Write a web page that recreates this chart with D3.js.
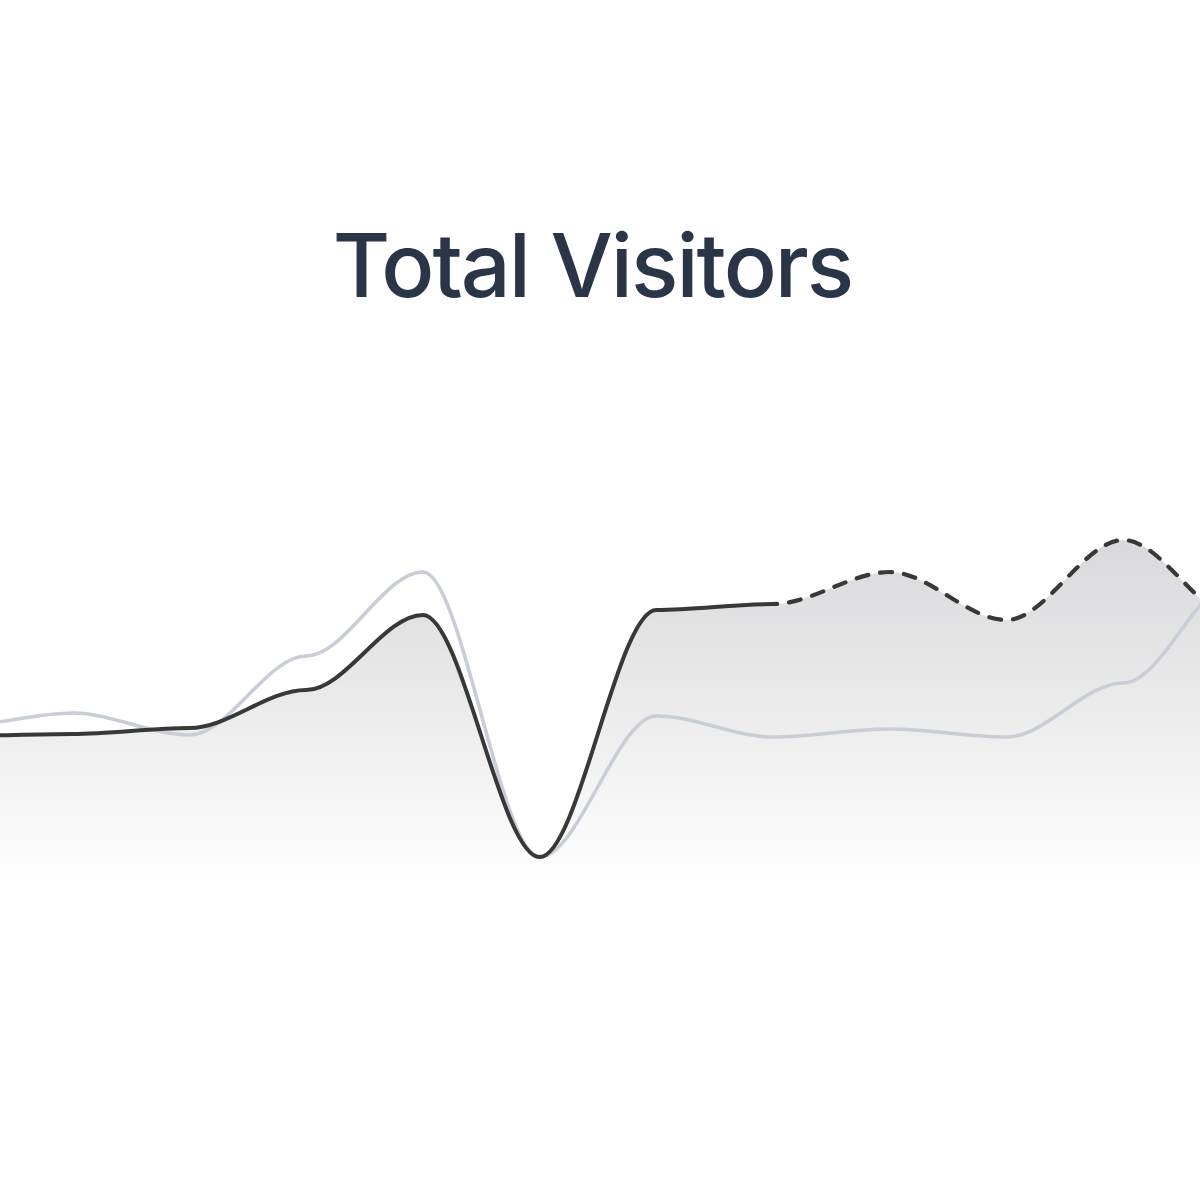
<!DOCTYPE html>
<html>
<head>
<meta charset="utf-8">
<script src="https://cdn.jsdelivr.net/npm/d3@7"></script>
<style>
  html, body { margin: 0; padding: 0; background: #ffffff; }
  svg { display: block; }
</style>
</head>
<body>
<div id="chart"></div>
<script>
// ---- data ----
const categories = ["P0", "P1", "P2", "P3", "P4", "P5", "P6", "P7", "P8", "P9", "P10", "P11"];
const currentVisitors  = [164, 166, 172, 210, 285, 43, 290, 296, 328, 280, 360, 280];
const previousVisitors = [174, 187, 165, 244, 328, 43, 184, 163, 171, 163, 217, 324];
const lastActualIndex = 7; // solid up to this category, dashed after
const titleText = "Total Visitors";

// ---- custom curve: cubic with flat tangents at every point (x-linear) ----
function SmoothStep(context) { this._context = context; }
SmoothStep.prototype = {
  areaStart() { this._line = 0; },
  areaEnd() { this._line = NaN; },
  lineStart() { this._point = 0; },
  lineEnd() {
    if (this._line || (this._line !== 0 && this._point === 1)) this._context.closePath();
    this._line = 1 - this._line;
  },
  point(x, y) {
    x = +x; y = +y;
    if (this._point === 0) {
      this._point = 1;
      this._line ? this._context.lineTo(x, y) : this._context.moveTo(x, y);
    } else {
      this._point = 2;
      const h = (x - this._x0) / 3;
      this._context.bezierCurveTo(this._x0 + h, this._y0, x - h, y, x, y);
    }
    this._x0 = x; this._y0 = y;
  }
};
const curveSmoothStep = ctx => new SmoothStep(ctx);

// ---- layout ----
const W = 1200, H = 1200;
const svg = d3.select("#chart").append("svg").attr("width", W).attr("height", H);

const x = d3.scalePoint().domain(categories).range([-44, 1240]);
const y = d3.scaleLinear().domain([0, 400]).range([900, 500]);

const defs = svg.append("defs");
defs.append("clipPath").attr("id", "clip")
  .append("rect").attr("x", 0).attr("y", 0).attr("width", W).attr("height", H);

const grad = defs.append("linearGradient").attr("id", "fillGrad")
  .attr("gradientUnits", "userSpaceOnUse")
  .attr("x1", 0).attr("x2", 0).attr("y1", y(360)).attr("y2", y(10));
grad.append("stop").attr("offset", "0%").attr("stop-color", "#d9d9db");
grad.append("stop").attr("offset", "55%").attr("stop-color", "#eeeeef");
grad.append("stop").attr("offset", "100%").attr("stop-color", "#ffffff");

// title
svg.append("text")
  .attr("x", 592.5).attr("y", 297)
  .attr("text-anchor", "middle")
  .attr("font-family", "Inter, 'Noto Sans', sans-serif")
  .attr("font-weight", 500)
  .attr("font-size", 88)
  .attr("letter-spacing", "-2")
  .attr("fill", "#2a3548")
  .text(titleText);

const g = svg.append("g").attr("clip-path", "url(#clip)");

const cur = categories.map((c, i) => ({ c, v: currentVisitors[i] }));
const prev = categories.map((c, i) => ({ c, v: previousVisitors[i] }));

const area = d3.area()
  .x(d => x(d.c)).y0(y(0)).y1(d => y(d.v))
  .curve(curveSmoothStep);

g.append("path").datum(cur)
  .attr("d", area)
  .attr("fill", "url(#fillGrad)");

const line = d3.line().x(d => x(d.c)).y(d => y(d.v)).curve(curveSmoothStep);

g.append("path").datum(prev)
  .attr("d", line)
  .attr("fill", "none")
  .attr("stroke", "#c8cdd6")
  .attr("stroke-width", 3.6);

// dark line: solid part (actual) and dashed part (projection)
const solidPart = cur.slice(0, lastActualIndex + 1);
const dashedPart = cur.slice(lastActualIndex);

g.append("path").datum(solidPart)
  .attr("d", line)
  .attr("fill", "none")
  .attr("stroke", "#383838")
  .attr("stroke-width", 4)
  .attr("stroke-linecap", "round");

g.append("path").datum(dashedPart)
  .attr("d", line)
  .attr("fill", "none")
  .attr("stroke", "#383838")
  .attr("stroke-width", 4.2)
  .attr("stroke-linecap", "round")
  .attr("stroke-dasharray", "12 12")
  .attr("stroke-dashoffset", "-16");
</script>
</body>
</html>
